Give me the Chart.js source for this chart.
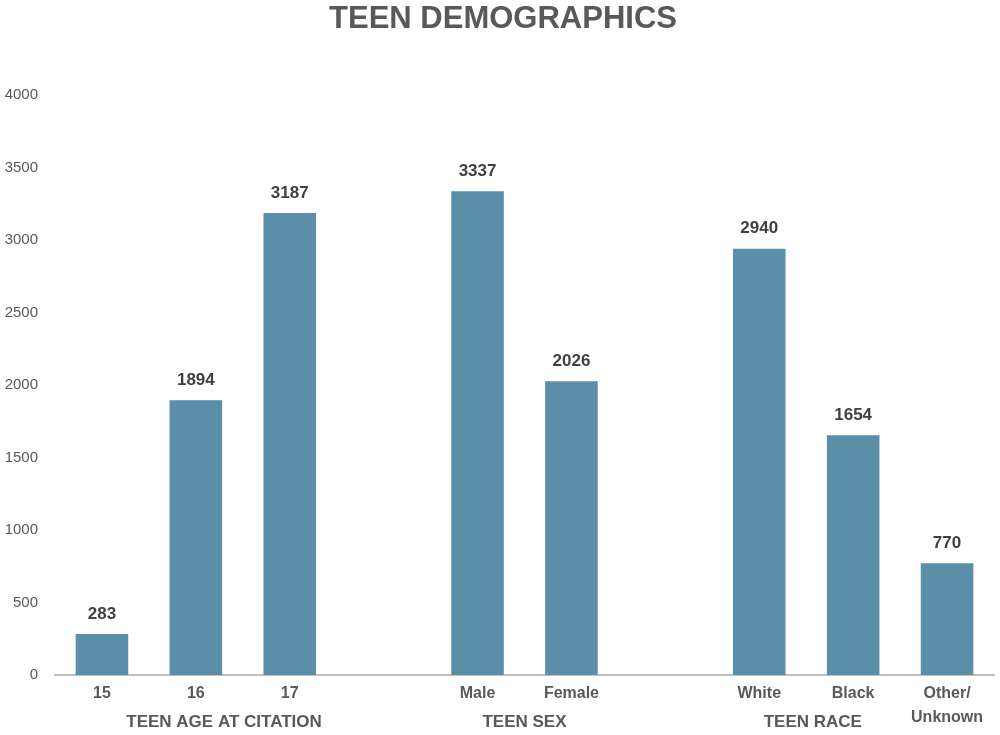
<!DOCTYPE html>
<html>
<head>
<meta charset="utf-8">
<script src="https://cdn.jsdelivr.net/npm/chart.js@4"></script>
<style>
  html, body { margin: 0; padding: 0; background: #fff; }
  #wrap { width: 1000px; height: 735px; }
</style>
</head>
<body>
<div id="wrap"><canvas id="demoChart"></canvas></div>
<script>
// categories (blank slots separate the groups)
const categories = ['15', '16', '17', '', 'Male', 'Female', '', 'White', 'Black', ['Other/', 'Unknown']];
const counts = [283, 1894, 3187, null, 3337, 2026, null, 2940, 1654, 770];
const groupNames = ['TEEN AGE AT CITATION', 'TEEN SEX', 'TEEN RACE'];
const yTicks = [0, 500, 1000, 1500, 2000, 2500, 3000, 3500, 4000];

const FONT = '"Liberation Sans", sans-serif';

// draws the title, value labels and the group labels under the axis
const extras = {
    id: 'extras',
    afterDraw(chart) {
        const ctx = chart.ctx;
        const x = chart.scales.x;
        ctx.save();
        ctx.textAlign = 'center';

        // title
        ctx.fillStyle = '#595959';
        ctx.font = 'bold 31px ' + FONT;
        ctx.textBaseline = 'middle';
        ctx.fillText('TEEN DEMOGRAPHICS', 503, 19);

        // value labels
        ctx.fillStyle = '#404040';
        ctx.font = 'bold 17px ' + FONT;
        chart.getDatasetMeta(0).data.forEach((bar, i) => {
            if (counts[i] == null) return;
            ctx.fillText(String(counts[i]), bar.x, bar.y - 20);
        });

        // group labels
        const groupPos = [1.3, 4.5, 7.57];
        ctx.fillStyle = '#595959';
        ctx.font = 'bold 17px ' + FONT;
        groupNames.forEach((name, i) => {
            ctx.fillText(name, x.getPixelForValue(groupPos[i]), 722);
        });
        ctx.restore();
    }
};

new Chart(document.getElementById('demoChart'), {
    type: 'bar',
    data: {
        labels: categories,
        datasets: [{
            data: counts,
            backgroundColor: '#5b8ea8',
            categoryPercentage: 1,
            barPercentage: 0.56
        }]
    },
    options: {
        responsive: true,
        maintainAspectRatio: false,
        animation: false,
        layout: { padding: { top: 95, right: 6, left: 0, bottom: 0 } },
        plugins: {
            legend: { display: false },
            tooltip: { enabled: false }
        },
        scales: {
            x: {
                grid: { display: false, drawTicks: false },
                border: { color: '#bfbfbf', width: 2 },
                ticks: {
                    color: '#595959',
                    font: { family: FONT, size: 16, weight: 'bold', lineHeight: 1.5 },
                    padding: 7,
                    maxRotation: 0,
                    autoSkip: false
                },
                afterFit(scale) { scale.height = 60; }
            },
            y: {
                min: 0,
                max: 4000,
                afterBuildTicks(scale) { scale.ticks = yTicks.map(v => ({ value: v })); },
                grid: { display: false, drawTicks: false },
                border: { display: false },
                ticks: {
                    color: '#595959',
                    font: { family: FONT, size: 15 },
                    padding: 17,
                    callback: v => String(v)
                },
                afterFit(scale) { scale.width = 55; }
            }
        }
    },
    plugins: [extras]
});
</script>
</body>
</html>
